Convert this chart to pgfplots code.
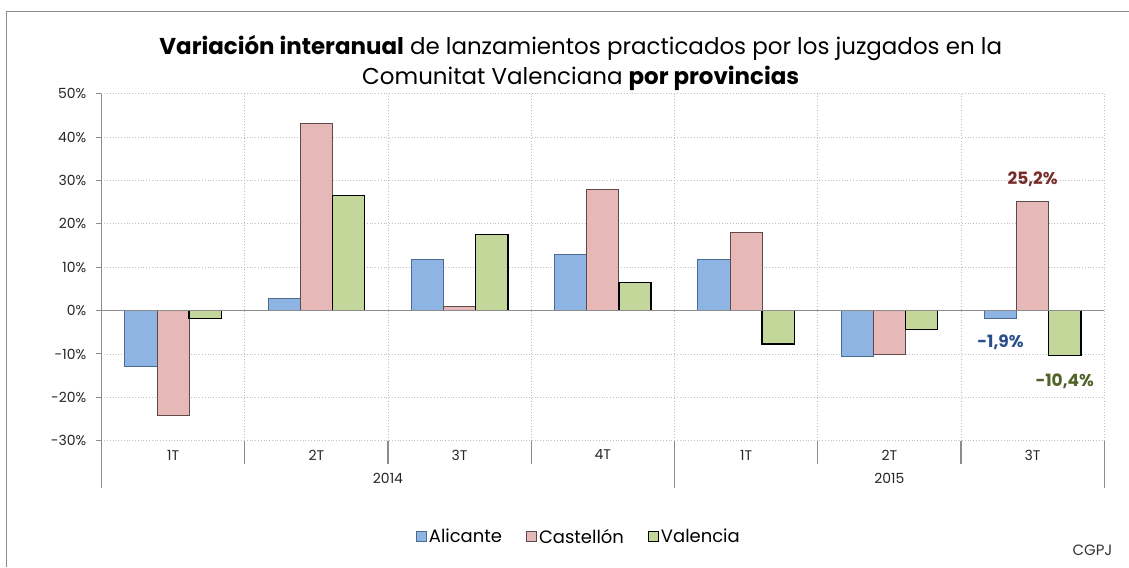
\documentclass[border=0pt]{standalone}
\usepackage{pgfplots}
\pgfplotsset{compat=1.18}
\usepackage{fontspec}
\setmainfont{Poppins}
\definecolor{alic}{HTML}{8DB4E2}
\definecolor{alicE}{HTML}{4B6B8F}
\definecolor{cast}{HTML}{E6B9B8}
\definecolor{castE}{HTML}{5E4A4A}
\definecolor{val}{HTML}{C4D79B}
\definecolor{gridc}{HTML}{BFBFBF}
\definecolor{axc}{HTML}{8C8C8C}
\definecolor{lblred}{HTML}{772C2A}
\definecolor{lblblue}{HTML}{2A4E8C}
\definecolor{lblgreen}{HTML}{4F6228}
\pgfplotsset{ybar legend/.style={legend image code/.code={\draw[##1,draw,line width=1.1pt] (0pt,-5pt) rectangle (10pt,5pt);}}}
\begin{document}
\begin{tikzpicture}[x=1pt,y=1pt]
\path (0,0) rectangle (1129,566);
\draw[axc, line width=1pt] (6.3,-2) -- (6.3,554.7) -- (1131,554.7);
\node[anchor=base, font=\fontsize{23}{27}\selectfont] at (582,511) {\textbf{Variación interanual} de lanzamientos practicados por los juzgados en la};
\node[anchor=base, font=\fontsize{23}{27}\selectfont] at (582,481) {Comunitat Valenciana \textbf{por provincias}};
\node[anchor=east, inner sep=0pt, font=\fontsize{15}{18}\selectfont, text=black!80] at (1115,14.3) {CGPJ};
\begin{axis}[
  at={(101.7pt,124.3pt)}, anchor=south west,
  scale only axis, width=1005pt, height=347.7pt,
  xmin=-0.5, xmax=6.5, ymin=-30, ymax=50,
  axis line style={draw=none},
  clip=false,
  ybar, bar width=32.2pt,
  ytick={-30,-20,...,50},
  yticklabels={-30\%,-20\%,-10\%,0\%,10\%,20\%,30\%,40\%,50\%},
  ymajorgrids=true,
  major grid style={gridc, line width=0.9pt, dash pattern=on 0.9pt off 1.9pt},
  tick pos=left, tick align=outside, major tick length=5.7pt,
  tick style={axc, line width=1pt},
  xtick={0,...,6},
  xticklabels={1T,2T,3T,4T,1T,2T,3T},
  xtick style={draw=none},
  extra x ticks={-0.5,0.5,1.5,2.5,3.5,4.5,5.5,6.5},
  extra x tick labels={},
  extra x tick style={grid=major, tick style={draw=none}},
  ticklabel style={font=\fontsize{14}{16}\selectfont, text=black!85},
  yticklabel style={xshift=-6pt},
  /pgf/number format/assume math mode=true,
  legend style={at={(0.476,-0.277)}, anchor=center, draw=none, legend columns=3,
    font=\fontsize{18}{21}\selectfont, inner sep=0pt,
    /tikz/every even column/.append style={column sep=22pt}},
]
\addplot[fill=alic, draw=alicE, line width=0.9pt, bar shift=-32.2pt] coordinates {(0,-12.9) (1,2.8) (2,11.7) (3,12.9) (4,11.7) (5,-10.6) (6,-1.9)};
\addlegendentry{Alicante}
\addplot[fill=cast, draw=castE, line width=0.9pt, bar shift=0pt] coordinates {(0,-24.1) (1,43.2) (2,1.0) (3,28.0) (4,18.1) (5,-10.1) (6,25.2)};
\addlegendentry{Castellón}
\addplot[fill=val, draw=black, line width=1.4pt, bar shift=32.2pt] coordinates {(0,-1.8) (1,26.6) (2,17.6) (3,6.5) (4,-7.7) (5,-4.4) (6,-10.4)};
\addlegendentry{Valencia}
\draw[axc, line width=1.4pt] (axis cs:-0.5,0) -- (axis cs:6.5,0);
\draw[axc, line width=1.3pt] (axis cs:-0.5,50) -- (axis cs:-0.5,-30) -- ++(0pt,-47.6pt);
\draw[axc, line width=1.3pt] (axis cs:3.5,-30) -- ++(0pt,-47.6pt);
\draw[axc, line width=1.3pt] (axis cs:6.5,-30) -- ++(0pt,-47.6pt);
\draw[axc, line width=1.3pt] (axis cs:0.5,-30) -- ++(0pt,-23.3pt);
\draw[axc, line width=1.3pt] (axis cs:1.5,-30) -- ++(0pt,-23.3pt);
\draw[axc, line width=1.3pt] (axis cs:2.5,-30) -- ++(0pt,-23.3pt);
\draw[axc, line width=1.3pt] (axis cs:4.5,-30) -- ++(0pt,-23.3pt);
\draw[axc, line width=1.3pt] (axis cs:5.5,-30) -- ++(0pt,-23.3pt);
\node[font=\fontsize{14}{16}\selectfont, text=black!85] at ([yshift=-37.3pt]axis cs:1.5,-30) {2014};
\node[font=\fontsize{14}{16}\selectfont, text=black!85] at ([yshift=-37.3pt]axis cs:5,-30) {2015};
\node[font=\bfseries\fontsize{17}{20}\selectfont, text=lblred] at (axis cs:6,30.2) {25,2\%};
\node[font=\bfseries\fontsize{17}{20}\selectfont, text=lblblue] at (axis cs:5.776,-7.4) {-1,9\%};
\node[font=\bfseries\fontsize{17}{20}\selectfont, text=lblgreen] at (axis cs:6.224,-16.2) {-10,4\%};
\end{axis}
\end{tikzpicture}
\end{document}
